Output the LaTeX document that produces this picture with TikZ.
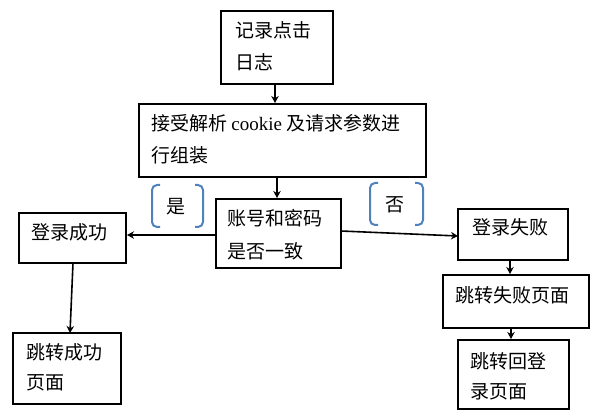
\documentclass[tikz,border=0pt]{standalone}
\usepackage{fontspec}
\setmainfont{Liberation Serif}
\newfontfamily\cjk{Noto Sans CJK SC}
\usetikzlibrary{arrows.meta}
\definecolor{brkblue}{RGB}{79,129,189}
\begin{document}
\begin{tikzpicture}[x=1pt,y=-1pt,
  box/.style={draw, line width=2pt, inner sep=0pt},
  txt/.style={anchor=west, inner sep=0pt, font=\fontsize{19}{19}\selectfont\cjk},
  arr/.style={-{Stealth[length=7pt,width=7.5pt]}, line width=1.6pt},
  brk/.style={draw=brkblue, line width=2pt, rounded corners=5pt}]
\useasboundingbox (0,0) rectangle (590,414);
% boxes
\node[box, minimum width=112pt, minimum height=73pt] (B1) at (277,47.5) {};
\node[box, minimum width=287pt, minimum height=73pt] (B2) at (282.5,140.5) {};
\node[box, minimum width=125pt, minimum height=69pt] (B3) at (278.5,233.5) {};
\node[box, minimum width=107pt, minimum height=50pt] (S1) at (72.5,238) {};
\node[box, minimum width=108pt, minimum height=71pt] (S2) at (67,368.5) {};
\node[box, minimum width=110pt, minimum height=51pt] (F1) at (513,234.5) {};
\node[box, minimum width=146pt, minimum height=53pt] (F2) at (516,301.5) {};
\node[box, minimum width=111pt, minimum height=69pt] (F3) at (513.5,374.5) {};
% texts
\node[txt] (t1a) at (235,30) {记录点击};
\node[txt] (t1b) at (235,62) {日志};
\node[txt] (t2a) at (151,123) {接受解析 {\rmfamily cookie} 及请求参数进};
\node[txt] (t2b) at (151,155) {行组装};
\node[txt] (t3a) at (227,218) {账号和密码};
\node[txt] (t3b) at (227,251) {是否一致};
\node[txt] (ts1) at (31,232) {登录成功};
\node[txt] (ts2a) at (26,352) {跳转成功};
\node[txt] (ts2b) at (26,383) {页面};
\node[txt] (tf1) at (472,227) {登录失败};
\node[txt] (tf2) at (455,295) {跳转失败页面};
\node[txt] (tf3a) at (470,361) {跳转回登};
\node[txt] (tf3b) at (470,392) {录页面};
% labels with brackets
\node[txt, anchor=center] (yes) at (176,207) {是};
\node[txt, anchor=center] (no) at (395,205) {否};
\draw[brk] (160,185) -- (152,185) -- (152,227) -- (160,227);
\draw[brk] (195,185) -- (203,185) -- (203,227) -- (195,227);
\draw[brk] (378,183) -- (370,183) -- (370,225) -- (378,225);
\draw[brk] (415,183) -- (423,183) -- (423,225) -- (415,225);
% connector coordinates
\coordinate (x275) at (275,0);
\coordinate (x277) at (277,0);
\coordinate (x510) at (510,0);
\coordinate (x511) at (511,0);
\coordinate (y235) at (0,235);
\coordinate (a1) at (73,263);
\coordinate (a2) at (70,333);
\coordinate (b1) at (341,231);
\coordinate (b2) at (458,236);
% connectors
\draw[arr] (B1.south -| x275) -- (B2.north -| x275);
\draw[arr] (B2.south -| x277) -- (B3.north -| x277);
\draw[arr] (B3.west |- y235) -- (S1.east |- y235);
\draw[arr] (a1) -- (a2);
\draw[arr] (b1) -- (b2);
\draw[arr] (F1.south -| x510) -- (F2.north -| x510);
\draw[arr] (F2.south -| x511) -- (F3.north -| x511);
\end{tikzpicture}
\end{document}
